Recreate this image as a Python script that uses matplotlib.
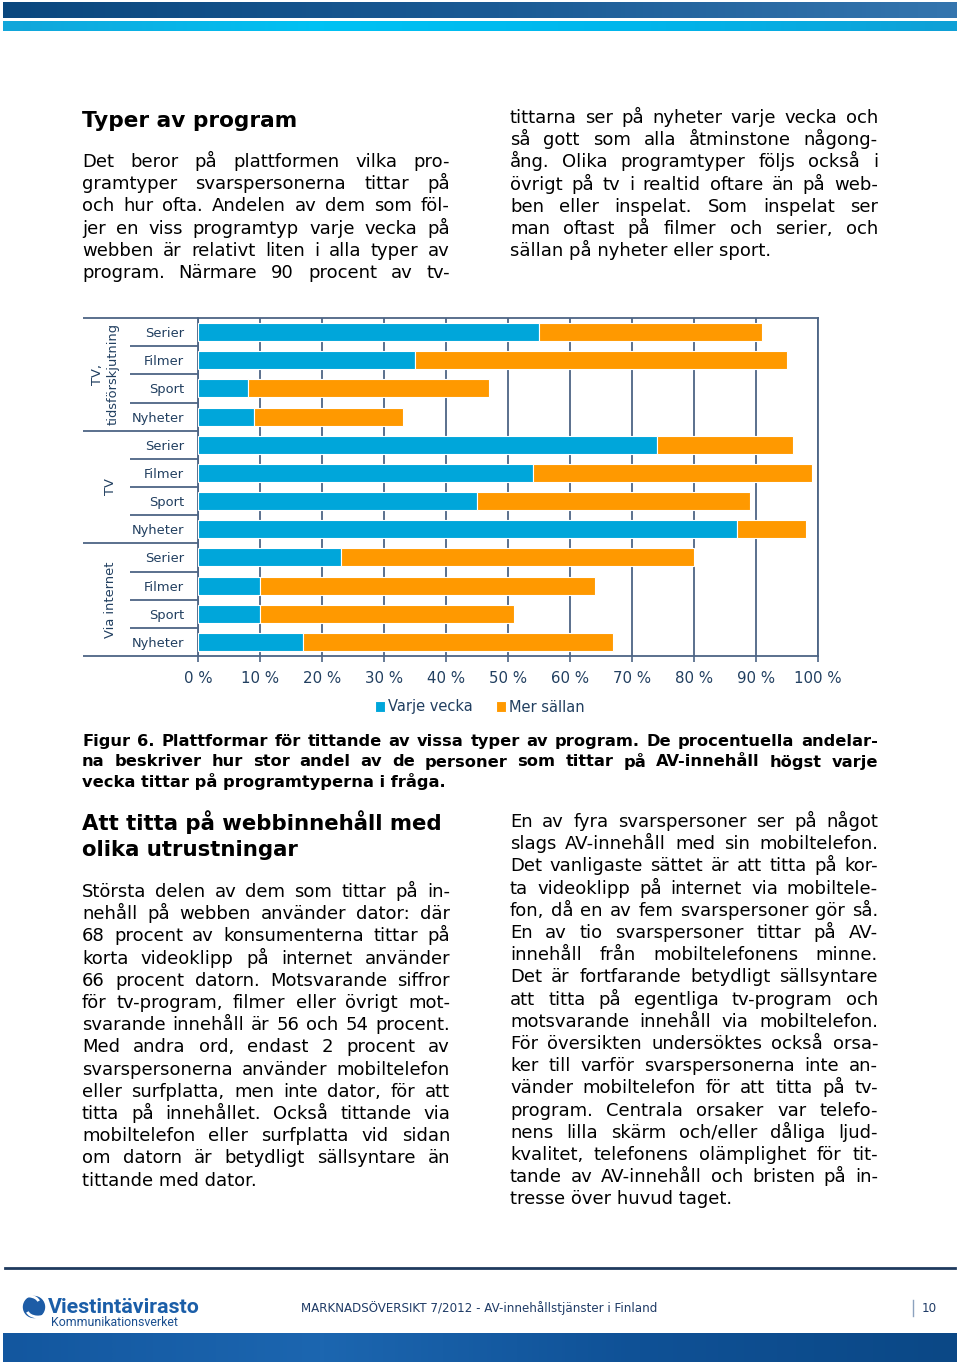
import matplotlib
matplotlib.use("Agg")
import matplotlib.pyplot as plt
import numpy as np
from matplotlib.colors import LinearSegmentedColormap
from matplotlib.patches import Circle, Arc
from matplotlib.transforms import blended_transform_factory

# ---- chart data (percent of viewers) ----
groups = ["TV,\ntidsförskjutning", "TV", "Via internet"]
program_types = ["Serier", "Filmer", "Sport", "Nyheter"]
weekly = [55, 35, 8, 9, 74, 54, 45, 87, 23, 10, 10, 17]
less_often = [36, 60, 39, 24, 22, 45, 44, 11, 57, 54, 41, 50]
series_names = ["Varje vecka", "Mer sällan"]
x_ticks = list(range(0, 101, 10))
x_tick_labels = [f"{v} %" for v in x_ticks]

# ---- page text ----
title1 = "Typer av program"
col1_par1 = [
    "Det beror på plattformen vilka pro-",
    "gramtyper svarspersonerna tittar på",
    "och hur ofta. Andelen av dem som föl-",
    "jer en viss programtyp varje vecka på",
    "webben är relativt liten i alla typer av",
    "program. Närmare 90 procent av tv-",
]
col2_par1 = [
    "tittarna ser på nyheter varje vecka och",
    "så gott som alla åtminstone någong-",
    "ång. Olika programtyper följs också i",
    "övrigt på tv i realtid oftare än på web-",
    "ben eller inspelat. Som inspelat ser",
    "man oftast på filmer och serier, och",
    "sällan på nyheter eller sport.",
]
caption = [
    "Figur 6. Plattformar för tittande av vissa typer av program. De procentuella andelar-",
    "na beskriver hur stor andel av de personer som tittar på AV-innehåll högst varje",
    "vecka tittar på programtyperna i fråga.",
]
title2 = ["Att titta på webbinnehåll med", "olika utrustningar"]
col1_par2 = [
    "Största delen av dem som tittar på in-",
    "nehåll på webben använder dator: där",
    "68 procent av konsumenterna tittar på",
    "korta videoklipp på internet använder",
    "66 procent datorn. Motsvarande siffror",
    "för tv-program, filmer eller övrigt mot-",
    "svarande innehåll är 56 och 54 procent.",
    "Med andra ord, endast 2 procent av",
    "svarspersonerna använder mobiltelefon",
    "eller surfplatta, men inte dator, för att",
    "titta på innehållet. Också tittande via",
    "mobiltelefon eller surfplatta vid sidan",
    "om datorn är betydligt sällsyntare än",
    "tittande med dator.",
]
col2_par2 = [
    "En av fyra svarspersoner ser på något",
    "slags AV-innehåll med sin mobiltelefon.",
    "Det vanligaste sättet är att titta på kor-",
    "ta videoklipp på internet via mobiltele-",
    "fon, då en av fem svarspersoner gör så.",
    "En av tio svarspersoner tittar på AV-",
    "innehåll från mobiltelefonens minne.",
    "Det är fortfarande betydligt sällsyntare",
    "att titta på egentliga tv-program och",
    "motsvarande innehåll via mobiltelefon.",
    "För översikten undersöktes också orsa-",
    "ker till varför svarspersonerna inte an-",
    "vänder mobiltelefon för att titta på tv-",
    "program. Centrala orsaker var telefo-",
    "nens lilla skärm och/eller dåliga ljud-",
    "kvalitet, telefonens olämplighet för tit-",
    "tande av AV-innehåll och bristen på in-",
    "tresse över huvud taget.",
]
footer_text = "MARKNADSÖVERSIKT 7/2012 - AV-innehållstjänster i Finland"
page_no = "10"

BLUE = "#00A6DA"
ORANGE = "#FF9900"
GRID = "#4D6585"
TXT = "#213F60"

W, H = 960, 1367
plt.rcParams["font.family"] = ["DejaVu Sans"]
fig = plt.figure(figsize=(W / 100, H / 100), dpi=100)
fig.patch.set_facecolor("white")

# full-page axes in pixel units (origin top-left)
page = fig.add_axes([0, 0, 1, 1])
page.set_xlim(0, W)
page.set_ylim(H, 0)
page.set_autoscale_on(False)
page.axis("off")
renderer = fig.canvas.get_renderer()


def gradient_bar(x0, x1, y0, y1, colors):
    cmap = LinearSegmentedColormap.from_list("g", colors)
    page.imshow(np.linspace(0, 1, 256)[None, :], extent=[x0, x1, y1, y0],
                cmap=cmap, aspect="auto", interpolation="bilinear")


def put_lines(lines, x0, x1, y0, step, size, bold=False, last_free=True, justify=True):
    weight = "bold" if bold else "normal"
    for i, line in enumerate(lines):
        y = y0 + i * step
        words = line.split()
        free = (last_free and i == len(lines) - 1) or not justify
        if free or len(words) == 1:
            page.text(x0, y, line, fontsize=size, fontweight=weight, va="baseline")
            continue
        arts = [page.text(0, y, w, fontsize=size, fontweight=weight, va="baseline")
                for w in words]
        widths = [a.get_window_extent(renderer).width for a in arts]
        gap = (x1 - x0 - sum(widths)) / (len(words) - 1)
        x = x0
        for a, w in zip(arts, widths):
            a.set_x(x)
            x += w + gap


# header bars
gradient_bar(3, 957, 2, 18, ["#0A477E", "#1A5A94", "#3475AE"])
gradient_bar(3, 957, 21, 31, ["#12A6DA", "#00C2F4", "#00B6EC", "#0FA0D6"])

# text blocks
page.text(82, 127, title1, fontsize=15.6, fontweight="bold", va="baseline")
put_lines(col1_par1, 82, 450, 167, 22.2, 13, last_free=False)
put_lines(col2_par1, 510, 878, 123, 22.2, 13)
put_lines(caption, 82, 878, 746, 20.5, 11.7, bold=True)
put_lines(title2, 82, 450, 830, 26, 15.3, bold=True, justify=False)
put_lines(col1_par2, 82, 450, 897, 22.2, 13)
put_lines(col2_par2, 510, 878, 827, 22.2, 13)

# ---- chart ----
ax = fig.add_axes([198 / W, 1 - 656 / H, 620 / W, 338 / H])
ypos = np.arange(len(weekly))
ax.barh(ypos, weekly, height=0.64, color=BLUE, edgecolor="white", linewidth=0.8,
        label=series_names[0], zorder=3)
ax.barh(ypos, less_often, left=weekly, height=0.64, color=ORANGE, edgecolor="white",
        linewidth=0.8, label=series_names[1], zorder=3)
ax.set_xlim(0, 100)
ax.set_ylim(len(weekly) - 0.5, -0.5)
ax.set_xticks(x_ticks, labels=x_tick_labels)
ax.set_yticks(ypos, labels=program_types * len(groups))
ax.grid(axis="x", color=GRID, linewidth=1.3)
ax.set_axisbelow(True)
ax.tick_params(axis="y", length=0, pad=10, labelsize=9.4, labelcolor=TXT)
ax.tick_params(axis="x", direction="out", length=4, width=1.2, color=GRID, pad=7,
               labelsize=10.8, labelcolor=TXT)
for sp in ax.spines.values():
    sp.set_color(GRID)
    sp.set_linewidth(1.3)

ax.legend(loc="center", bbox_to_anchor=(480 / W, 1 - 707 / H), bbox_transform=fig.transFigure,
          ncol=2, frameon=False, handlelength=0.65, handleheight=0.7, handletextpad=0.25,
          columnspacing=1.6, fontsize=10.5, labelcolor=TXT, borderpad=0)

# hierarchical category axis on the left
trans = blended_transform_factory(page.transData, ax.transData)
n = len(program_types)
for g in range(len(groups) + 1):
    page.plot([83, 198], [g * n - 0.5] * 2, color=GRID, lw=1.3, transform=trans,
              solid_capstyle="butt")
for g in range(len(groups)):
    for k in range(1, n):
        page.plot([130, 198], [g * n + k - 0.5] * 2, color=GRID, lw=1.3, transform=trans,
                  solid_capstyle="butt")
    page.text(105 if "\n" in groups[g] else 110, g * n + (n - 1) / 2, groups[g],
              transform=trans, rotation=90, ha="center", va="center",
              multialignment="center", fontsize=9.4, color=TXT, linespacing=1.3)

# ---- footer ----
page.plot([5, 955], [1268, 1268], color="#1F3A5E", lw=2)
gradient_bar(3, 957, 1333, 1362, ["#13579F", "#1C66B0", "#0F5196", "#0B4886"])
page.add_patch(Circle((34, 1307), 10.5, color="#1D5CA6"))
page.add_patch(Arc((28, 1303), 22, 14, theta1=200, theta2=350, color="white", lw=2))
page.add_patch(Arc((38, 1310), 22, 14, theta1=20, theta2=170, color="white", lw=2))
page.text(48, 1313, "Viestintävirasto", fontsize=15.4, fontweight="bold",
          family="Roboto", color="#1B5EA8", va="baseline")
page.text(51, 1326, "Kommunikationsverket", fontsize=8.9, family="Roboto",
          color="#1B4F8F", va="baseline")
page.text(301, 1312, footer_text, fontsize=8.6, color="#1F3B66", va="baseline")
page.plot([913, 913], [1300, 1316], color="#8CA2BE", lw=1)
page.text(922, 1312, page_no, fontsize=8.6, color="#1F3B66", va="baseline")

fig.savefig("out.png", dpi=100)
